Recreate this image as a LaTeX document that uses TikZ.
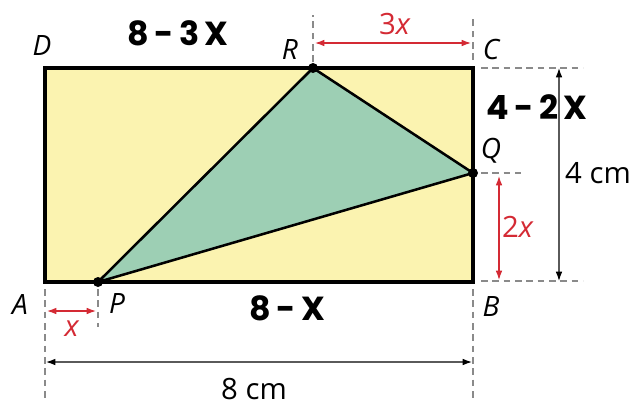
\documentclass[tikz,border=0pt]{standalone}
\usepackage{fontspec}
\setmainfont{Open Sans}
\newfontfamily\handfont{Poppins}
\usetikzlibrary{arrows.meta,positioning,calc}
\definecolor{RectYellow}{HTML}{FBF3B0}
\definecolor{TriGreen}{HTML}{9DCFB4}
\definecolor{DimRed}{HTML}{D42A34}
\definecolor{DimGray}{HTML}{5A5A5A}
\definecolor{GuideGray}{HTML}{8A8A8A}

\begin{document}
\begin{tikzpicture}[x=0.75pt,y=-0.75pt,
    pt/.style={font=\fontsize{21}{24}\selectfont\itshape,inner sep=0pt},
    hand/.style={font=\handfont\bfseries\fontsize{25}{28}\selectfont,inner sep=0pt},
    dimtxt/.style={font=\fontsize{22}{26}\selectfont,inner sep=0pt},
    redtxt/.style={dimtxt,text=DimRed},
    guide/.style={GuideGray,line width=0.9pt,dash pattern=on 5pt off 3.5pt},
    redarr/.style={{Latex[length=7pt,width=5pt]}-{Latex[length=7pt,width=5pt]},DimRed,line width=0.9pt},
    grayarr/.style={{Latex[length=7pt,width=5pt,black]}-{Latex[length=7pt,width=5pt,black]},DimGray,line width=0.9pt},
    dot/.style={circle,fill=black,inner sep=0pt,minimum size=7.5pt}
  ]
    \useasboundingbox (0,0) rectangle (635,405);
    % corners and points
    \coordinate (A) at (45,282); \coordinate (B) at (473,282);
    \coordinate (C) at (473,68);  \coordinate (D) at (45,68);
    \coordinate (P) at (98,282); \coordinate (R) at (313,68); \coordinate (Q) at (473,173);
    \fill[RectYellow] (A) rectangle (C);
    \filldraw[fill=TriGreen,draw=black,line width=1.9pt,line join=round] (P) -- (R) -- (Q) -- cycle;
    \draw[line width=2.5pt] (A) rectangle (C);
    \node[dot] (dP) at (P) {}; \node[dot] (dR) at (R) {}; \node[dot] (dQ) at (Q) {};
    % guide lines
    \coordinate (rTop) at (313,15); \coordinate (cTop) at (473,15);
    \coordinate (cRight) at (583,68); \coordinate (qRight) at (521,173); \coordinate (bRight) at (583,281);
    \coordinate (aLow) at (45,402); \coordinate (bLow) at (473,402); \coordinate (pLow) at (98,327);
    \draw[guide] (313,62) -- (rTop); \draw[guide] (473,60) -- (cTop);
    \draw[guide] (481,68) -- (cRight); \draw[guide] (481,173) -- (qRight); \draw[guide] (481,281) -- (bRight);
    \draw[guide] (45,289) -- (aLow); \draw[guide] (473,289) -- (bLow); \draw[guide] (98,289) -- (pLow);
    % dimension arrows
    \coordinate (r1) at (315,43); \coordinate (r2) at (471,43);
    \coordinate (q1) at (499,176); \coordinate (q2) at (499,280);
    \coordinate (p1) at (47,311); \coordinate (p2) at (96,311);
    \coordinate (h1) at (559,68); \coordinate (h2) at (559,281);
    \coordinate (w1) at (46,362); \coordinate (w2) at (472,362);
    \draw[redarr] (r1) -- (r2); \draw[redarr] (q1) -- (q2); \draw[redarr] (p1) -- (p2);
    \draw[grayarr] (h1) -- (h2); \draw[grayarr] (w1) -- (w2);
    % labels
    \node[pt] (lD) at (42,45) {D};
    \node[pt] (lR) at (290,49) {R};
    \node[pt] (lC) at (491,49) {C};
    \node[pt] (lQ) at (491,151) {Q};
    \node[pt] (lA) at (20,304) {A};
    \node[pt] (lP) at (117,303) {P};
    \node[pt] (lB) at (491,306) {B};
    \node[redtxt] (l3x) at (395,24) {3\textit{x}};
    \node[redtxt] (l2x) at (518,227) {2\textit{x}};
    \node[redtxt] (lx) at (72,329) {\textit{x}};
    \node[dimtxt] (l4) at (598,173) {4 cm};
    \node[dimtxt] (l8) at (254,389) {8 cm};
    \node[hand] (h83) at (178,33) {8\,-\,3\,X};
    \node[hand] (h42) at (537,107) {4\,-\,2\,X};
    \node[hand] (h8) at (287,308) {8\,-\,X};
\end{tikzpicture}
\end{document}
